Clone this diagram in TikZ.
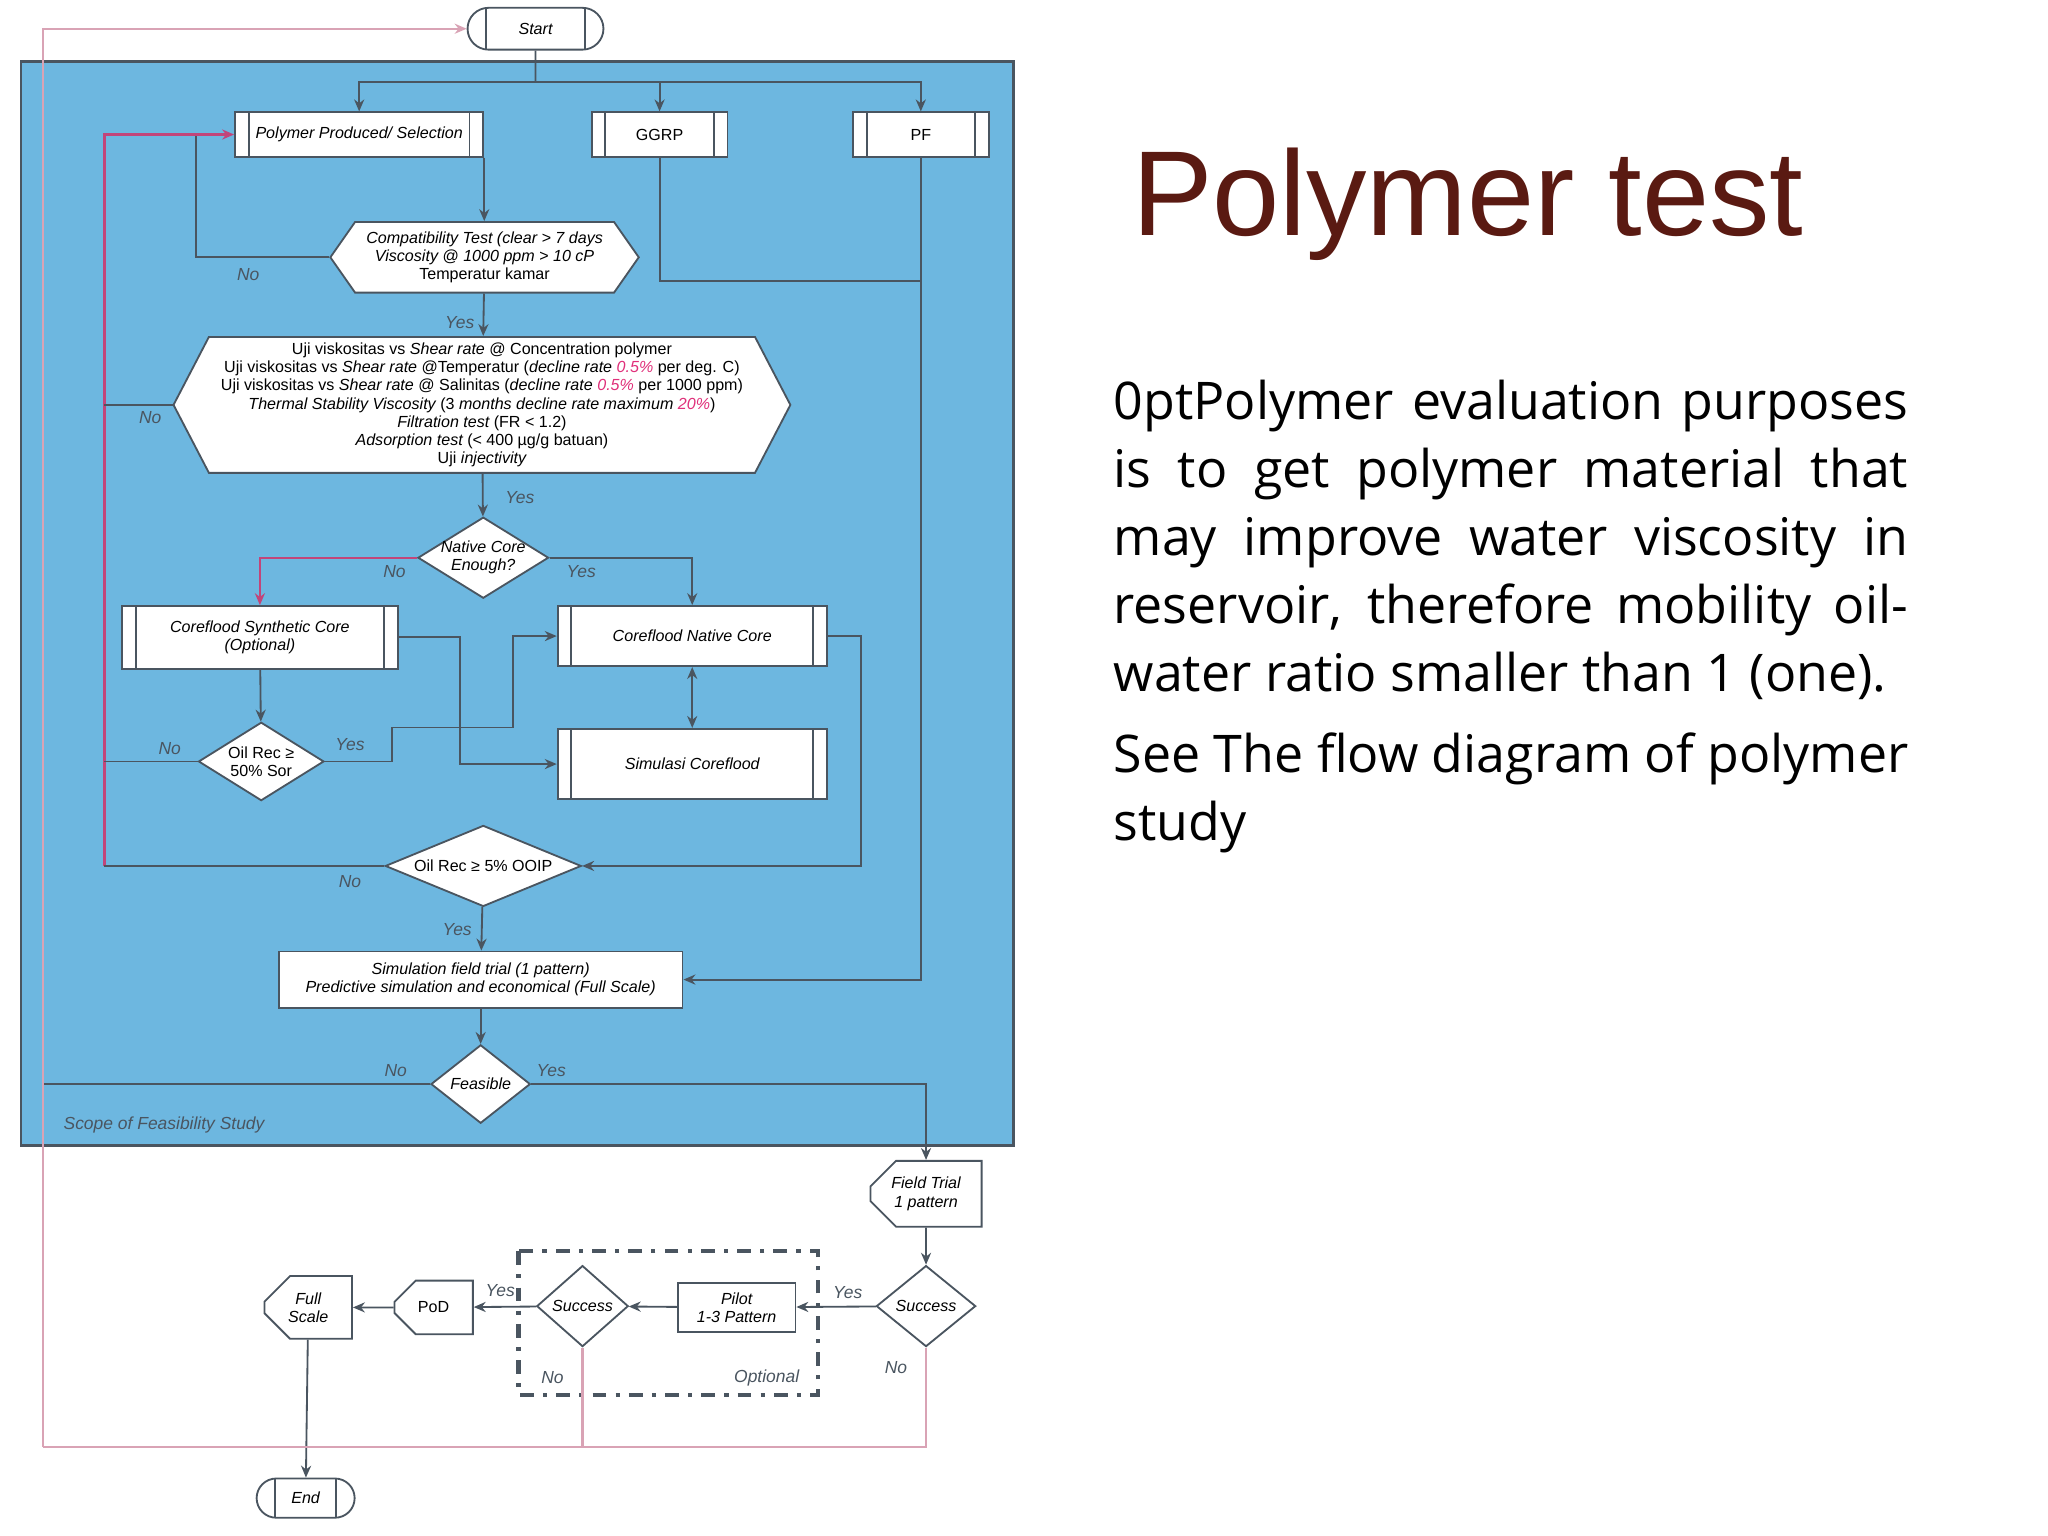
\documentclass[tikz,border=0pt]{standalone}
\usepackage{fontspec}
\setmainfont{Open Sans}
\newfontfamily\fl{Liberation Sans}
\newfontfamily\ttl{Liberation Sans}
\usetikzlibrary{shapes.geometric,shapes.misc,shapes.symbols,arrows.meta}
\definecolor{bluebg}{HTML}{6DB7E0}
\definecolor{ln}{HTML}{4A5560}
\definecolor{pk}{HTML}{C2457A}
\definecolor{pkl}{HTML}{D9A3B5}
\definecolor{ttlc}{HTML}{5A1A12}
\definecolor{pct}{HTML}{E0307A}
\tikzset{
  >={Stealth[length=2.6pt,width=2.2pt]},
  every node/.style={font=\fl\itshape\fontsize{3.5}{3.95}\selectfont, align=center, inner sep=0pt},
  bx/.style={draw=ln, fill=white, line width=0.4pt},
  proc/.style={bx, rectangle, path picture={
      \draw[ln,line width=0.4pt] ([xshift=3pt]path picture bounding box.north west) -- ([xshift=3pt]path picture bounding box.south west);
      \draw[ln,line width=0.4pt] ([xshift=-3pt]path picture bounding box.north east) -- ([xshift=-3pt]path picture bounding box.south east);}},
  term/.style={bx, rounded rectangle, path picture={
      \draw[ln,line width=0.4pt] ([xshift=4pt]path picture bounding box.north west) -- ([xshift=4pt]path picture bounding box.south west);
      \draw[ln,line width=0.4pt] ([xshift=-4pt]path picture bounding box.north east) -- ([xshift=-4pt]path picture bounding box.south east);}},
  hexa/.style={bx, signal, signal to=east and west, signal from=nowhere},
  dia/.style={bx, diamond},
  card/.style={bx, chamfered rectangle, chamfered rectangle corners={north west,south west}, chamfered rectangle xsep=2pt},
  cn/.style={draw=ln, line width=0.4pt},
  lab/.style={font=\fl\itshape\fontsize{3.8}{4.2}\selectfont, text=ln},
}
\begin{document}
\begin{tikzpicture}[x=0.01cm,y=-0.01cm]
\useasboundingbox (0,0) rectangle (1568,1176);
\fill[white] (0,0) rectangle (1568,1176);
% blue area
\draw[fill=bluebg, draw=ln, line width=0.6pt] (16,47) rectangle (776,877);
\node[lab, anchor=west] at (48,861) {Scope of Feasibility Study};

% nodes
\node[term, minimum width=1.04cm, minimum height=0.32cm] (start) at (410,22) {Start};
\node[proc, minimum width=1.90cm, minimum height=0.34cm] (poly) at (275,103) {Polymer Produced/ Selection};
\node[proc, minimum width=1.04cm, minimum height=0.34cm] (ggrp) at (505,103) {\upshape GGRP};
\node[proc, minimum width=1.04cm, minimum height=0.34cm] (pf) at (705,103) {\upshape PF};
\node[hexa, minimum width=2.36cm, minimum height=0.54cm, signal pointer angle=110] (compat) at (371,197)
  {Compatibility Test (clear > 7 days\\ Viscosity @ 1000 ppm > 10 cP\\ \upshape Temperatur kamar};
\node[hexa, minimum width=4.72cm, minimum height=1.04cm, signal pointer angle=125] (big) at (369,310)
  {\upshape Uji viskositas vs \itshape Shear rate \upshape @ Concentration polymer\\
   \upshape Uji viskositas vs \itshape Shear rate \upshape @Temperatur (\itshape decline rate \textcolor{pct}{0.5\%} \upshape per deg. C)\\
   \upshape Uji viskositas vs \itshape Shear rate \upshape @ Salinitas (\itshape decline rate \textcolor{pct}{0.5\%} \upshape per 1000 ppm)\\
   Thermal Stability Viscosity \upshape (3 \itshape months decline rate maximum \textcolor{pct}{20\%}\upshape)\\
   Filtration test \upshape (FR < 1.2)\\
   Adsorption test \upshape (< 400 µg/g batuan)\\
   \upshape Uji \itshape injectivity};
\node[dia, minimum width=1.00cm, minimum height=0.62cm] (ncd) at (370,427) {};
\node at (ncd) {Native Core\\Enough?};
\node[proc, minimum width=2.11cm, minimum height=0.48cm] (syn) at (199,488) {Coreflood Synthetic Core\\(Optional)};
\node[proc, minimum width=2.06cm, minimum height=0.46cm] (nat) at (530,487) {Coreflood Native Core};
\node[proc, minimum width=2.06cm, minimum height=0.54cm] (sim) at (530,585) {Simulasi Coreflood};
\node[dia, minimum width=0.96cm, minimum height=0.60cm] (oilrec) at (200,583) {};
\node at (oilrec) {\upshape Oil Rec ≥\\ \upshape 50\% Sor};
\node[dia, minimum width=1.50cm, minimum height=0.62cm] (ooip) at (370,663) {};
\node at (ooip) {\upshape Oil Rec ≥ 5\% OOIP};
\node[bx, rectangle, minimum width=3.09cm, minimum height=0.43cm] (sft) at (368,750) {Simulation field trial (1 pattern)\\Predictive simulation and economical (Full Scale)};
\node[dia, minimum width=0.76cm, minimum height=0.60cm] (feas) at (368,830) {};
\node at (feas) {Feasible};
\node[card, minimum width=0.85cm, minimum height=0.45cm] (ft) at (709,914) {Field Trial\\1 pattern};
\node[dia, minimum width=0.76cm, minimum height=0.62cm] (succ2) at (709,1000) {};
\node at (succ2) {Success};
\node[bx, rectangle, minimum width=0.90cm, minimum height=0.38cm] (pilot) at (564,1001) {Pilot\\1-3 Pattern};
\node[dia, minimum width=0.70cm, minimum height=0.62cm] (succ1) at (446,1000) {};
\node at (succ1) {Success};
\node[card, minimum width=0.60cm, minimum height=0.41cm] (pod) at (332,1001) {\upshape PoD};
\node[card, minimum width=0.67cm, minimum height=0.41cm] (full) at (236,1001) {Full\\Scale};
\node[term, minimum width=0.75cm, minimum height=0.30cm] (end) at (234,1147) {End};

% optional box
\draw[ln, line width=0.9pt, dash dot] (397,958) rectangle (626,1068);
\node[lab] at (587,1055) {Optional};

% connectors top
\coordinate (j1) at (410,63);
\draw[cn] (start) -- (j1);
\draw[cn,->] (j1) -| (poly);
\draw[cn,->] (j1) -| (ggrp);
\draw[cn,->] (j1) -| (pf);
\draw[cn,->] (poly.south east) -- (poly.south east |- compat.north);
\draw[cn,->] (compat) -- (big);
\node[lab] at (352,247) {Yes};
\draw[cn] (compat.west) -- (150,197) -- (150,103);
\node[lab] at (190,210) {No};
\draw[draw=pk, line width=0.5pt, ->] (80,663) -- (80,103) -- (poly.west);
\draw[cn] (big.west) -- (80,310);
\node[lab] at (115,320) {No};
\draw[cn,->] (big) -- (ncd);
\node[lab] at (398,381) {Yes};
\draw[draw=pk, line width=0.4pt, ->] (ncd.west) -| (syn.north);
\node[lab] at (302,438) {No};
\draw[cn,->] (ncd.east) -| (nat.north);
\node[lab] at (445,438) {Yes};
\draw[cn,->] (syn) -- (oilrec);
\draw[cn,->] (oilrec.east) -- (300,583) -- (300,557) -- (393,557) |- (nat.west);
\node[lab] at (268,570) {Yes};
\draw[cn] (oilrec.west) -- (80,583);
\node[lab] at (130,573) {No};
\draw[cn,->] (syn.east) -- (352,488) |- (sim.west);
\draw[cn,<->] (nat) -- (sim);
\draw[cn,->] (nat.east) -- (659,487) |- (ooip.east);
\draw[cn] (ooip.west) -- (80,663);
\node[lab] at (268,675) {No};
\draw[cn,->] (ooip) -- (sft);
\node[lab] at (350,712) {Yes};
\draw[cn] (ggrp.south) |- (706,215);
\draw[cn,->] (pf.south) |- (sft.east);
\draw[cn,->] (sft) -- (feas);
\draw[cn] (feas.west) -- (33,830);
\node[lab] at (303,820) {No};
\draw[cn,->] (feas.east) -| (ft.north);
\node[lab] at (422,820) {Yes};

% bottom
\draw[cn,->] (ft) -- (succ2);
\draw[cn,->] (succ2) -- (pilot);
\node[lab] at (649,990) {Yes};
\draw[cn,->] (pilot) -- (succ1);
\draw[cn,->] (succ1) -- (pod);
\node[lab] at (383,988) {Yes};
\draw[cn,->] (pod) -- (full);
\draw[cn,->] (full) -- (end);
\draw[draw=pkl, line width=0.5pt] (succ2.south) |- (33,1108);
\node[lab] at (686,1047) {No};
\draw[draw=pkl, line width=0.5pt] (succ1.south) -- (446,1108);
\node[lab] at (423,1055) {No};
\draw[draw=pkl, line width=0.5pt, ->] (33,1108) -- (33,22) -- (start.west);

% text side
\node[font=\ttl\fontsize{26.3}{30}\selectfont, text=ttlc, anchor=base west] (title) at (866,180) {Polymer test};
\node[font=\fontsize{11.3}{14.8}\selectfont\hyphenpenalty=10000, text width=6.08cm, align=justify, anchor=north west] (body) at (852,290)
  {Polymer evaluation purposes is to get polymer material that may improve water viscosity in reservoir, therefore mobility oil-water ratio smaller than 1 (one).\par\vspace{3pt}
   See The flow diagram of polymer study};
\end{tikzpicture}
\end{document}
